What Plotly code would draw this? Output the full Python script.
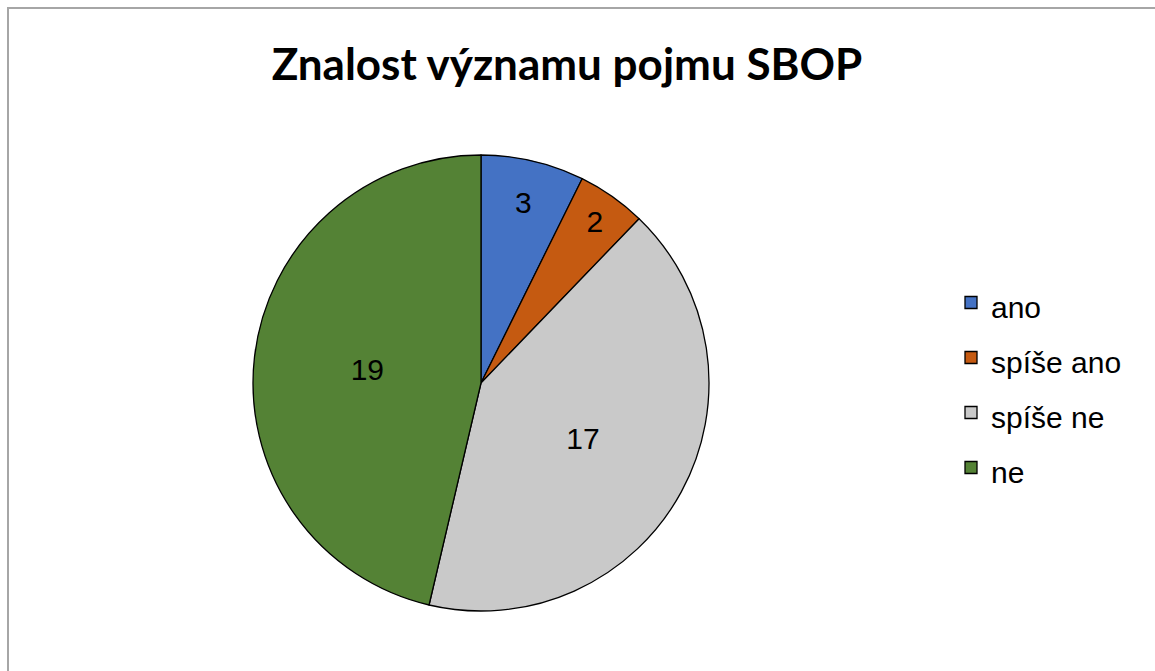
import plotly.graph_objects as go

# data
labels = ["ano", "spíše ano", "spíše ne", "ne"]
values = [3, 2, 17, 19]
colors = ["#4472C4", "#C55A11", "#C9C9C9", "#548235"]
title = "Znalost významu pojmu SBOP"

W, H = 1155, 671


def px_x(x):
    return x / W


def px_y(y):
    return 1 - y / H


# legend font 40 -> 52px rows, shown text 30px
legend_text = ["<span style='font-size:30px'>%s</span>" % l for l in labels]

fig = go.Figure()
fig.add_trace(go.Pie(
    labels=legend_text,
    values=values,
    sort=False,
    direction="clockwise",
    rotation=0,
    marker=dict(colors=colors, line=dict(color="black", width=1.3)),
    textinfo="value",
    textposition="inside",
    insidetextorientation="horizontal",
    textfont=dict(family="Liberation Sans, Arial", size=30, color="black"),
    domain=dict(x=[px_x(253), px_x(709)], y=[px_y(611), px_y(155)]),
    hoverinfo="label+value+percent",
))

fig.update_layout(
    width=W, height=H,
    margin=dict(l=0, r=0, t=0, b=0),
    paper_bgcolor="white",
    title=dict(text="<b>" + title + "</b>", x=px_x(567), xanchor="center",
               y=px_y(65), yanchor="middle",
               font=dict(family="Lato, Open Sans", size=44, color="black")),
    legend=dict(x=px_x(951), xanchor="left", y=px_y(385), yanchor="middle",
                font=dict(family="Liberation Sans, Arial", size=40, color="black"),
                tracegroupgap=0),
    # chart area border (left and top edges visible)
    shapes=[
        dict(type="line", xref="paper", yref="paper", x0=px_x(7), x1=1.0,
             y0=px_y(8), y1=px_y(8), line=dict(color="#A6A6A6", width=2)),
        dict(type="line", xref="paper", yref="paper", x0=px_x(8), x1=px_x(8),
             y0=0, y1=px_y(7), line=dict(color="#A6A6A6", width=2)),
    ],
)

fig.write_html(
    "out.html",
    config={"displayModeBar": False},
    post_script="document.body.style.margin='0';document.body.style.overflow='hidden';",
)
